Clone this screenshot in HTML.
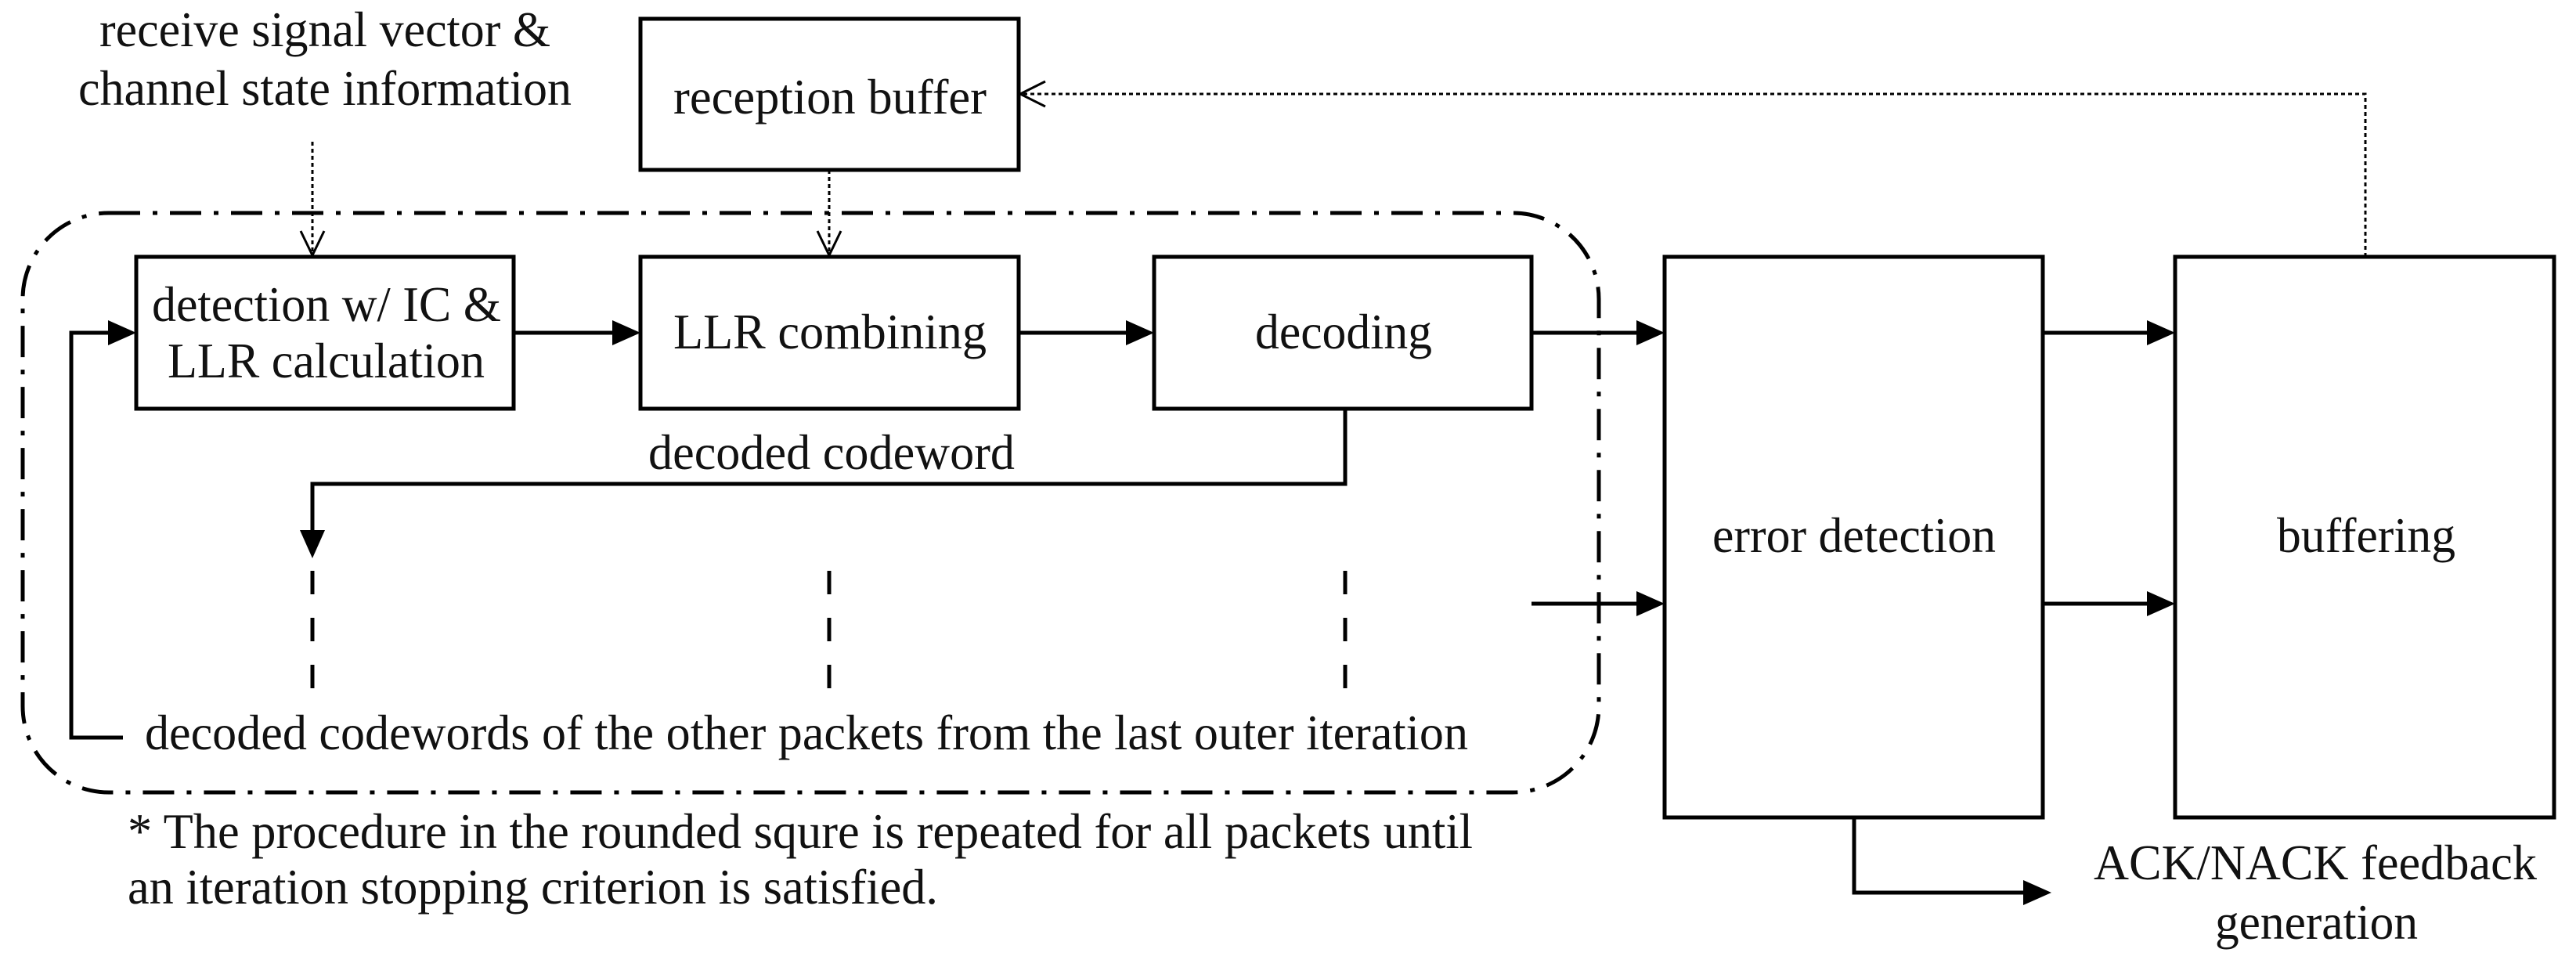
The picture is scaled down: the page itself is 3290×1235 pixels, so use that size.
<!DOCTYPE html>
<html><head><meta charset="utf-8"><style>
html,body{margin:0;padding:0;background:#fff;}
svg{display:block;}
text{font-family:"Liberation Serif",serif;font-size:64px;fill:#111;}
</style></head><body>
<svg width="3290" height="1235" viewBox="0 0 3290 1235" xmlns="http://www.w3.org/2000/svg">
<g fill="none" stroke="#000" stroke-width="5">
<rect x="174" y="328" width="482" height="194"/>
<rect x="818" y="24" width="483" height="193"/>
<rect x="818" y="328" width="483" height="194"/>
<rect x="1474" y="328" width="482" height="194"/>
<rect x="2126" y="328" width="483" height="716"/>
<rect x="2778" y="328" width="484" height="716"/>
<rect x="29" y="272" width="2013" height="740" rx="110" ry="110" stroke-width="5" stroke-dasharray="40,16,6,16"/>
</g>
<g stroke="#000" stroke-width="5" fill="none">
<line x1="656" y1="425" x2="784" y2="425"/>
<line x1="1301" y1="425" x2="1440" y2="425"/>
<line x1="1956" y1="425" x2="2092" y2="425"/>
<line x1="2609" y1="425" x2="2744" y2="425"/>
<line x1="1956" y1="771" x2="2092" y2="771"/>
<line x1="2609" y1="771" x2="2744" y2="771"/>
<polyline points="1718,522 1718,618 399,618 399,680"/>
<polyline points="157,942 91,942 91,425 140,425"/>
<polyline points="2368,1044 2368,1140 2586,1140"/>
<line x1="399" y1="729" x2="399" y2="881" stroke-dasharray="30,30"/>
<line x1="1059" y1="729" x2="1059" y2="881" stroke-dasharray="30,30"/>
<line x1="1718" y1="729" x2="1718" y2="881" stroke-dasharray="30,30"/>
</g>
<g fill="#000">
<path d="M818,425 l-36,-16 v32 z"/>
<path d="M1474,425 l-36,-16 v32 z"/>
<path d="M2126,425 l-36,-16 v32 z"/>
<path d="M2778,425 l-36,-16 v32 z"/>
<path d="M2126,771 l-36,-16 v32 z"/>
<path d="M2778,771 l-36,-16 v32 z"/>
<path d="M174,425 l-36,-16 v32 z"/>
<path d="M399,713 l-16,-36 h32 z"/>
<path d="M2620,1140 l-36,-16 v32 z"/>
</g>
<g stroke="#000" stroke-width="3" fill="none">
<polyline points="3021,328 3021,120 1303,120" stroke-dasharray="5,4"/>
<polyline points="1335,104 1303,120 1335,136"/>
<line x1="399" y1="181" x2="399" y2="326" stroke-dasharray="5,4"/>
<polyline points="384,295 399,326 414,295"/>
<line x1="1059" y1="217" x2="1059" y2="326" stroke-dasharray="5,4"/>
<polyline points="1044,295 1059,326 1074,295"/>
</g>
<g>
<text x="127" y="59" textLength="576" lengthAdjust="spacingAndGlyphs">receive signal vector &amp;</text>
<text x="100" y="134" textLength="630" lengthAdjust="spacingAndGlyphs">channel state information</text>
<text x="860" y="145" textLength="400" lengthAdjust="spacingAndGlyphs">reception buffer</text>
<text x="194" y="410" textLength="446" lengthAdjust="spacingAndGlyphs">detection w/ IC &amp;</text>
<text x="214" y="482" textLength="405" lengthAdjust="spacingAndGlyphs">LLR calculation</text>
<text x="860" y="445" textLength="400" lengthAdjust="spacingAndGlyphs">LLR combining</text>
<text x="1603" y="445" textLength="226" lengthAdjust="spacingAndGlyphs">decoding</text>
<text x="828" y="599" textLength="468" lengthAdjust="spacingAndGlyphs">decoded codeword</text>
<text x="185" y="957" textLength="1690" lengthAdjust="spacingAndGlyphs">decoded codewords of the other packets from the last outer iteration</text>
<text x="2187" y="705" textLength="362" lengthAdjust="spacingAndGlyphs">error detection</text>
<text x="2908" y="705" textLength="228" lengthAdjust="spacingAndGlyphs">buffering</text>
<text x="163" y="1083" textLength="1718" lengthAdjust="spacingAndGlyphs">* The procedure in the rounded squre is repeated for all packets until</text>
<text x="163" y="1154" textLength="1035" lengthAdjust="spacingAndGlyphs">an iteration stopping criterion is satisfied.</text>
<text x="2674" y="1123" textLength="566" lengthAdjust="spacingAndGlyphs">ACK/NACK feedback</text>
<text x="2829" y="1199" textLength="259" lengthAdjust="spacingAndGlyphs">generation</text>
</g>
</svg>
</body></html>
